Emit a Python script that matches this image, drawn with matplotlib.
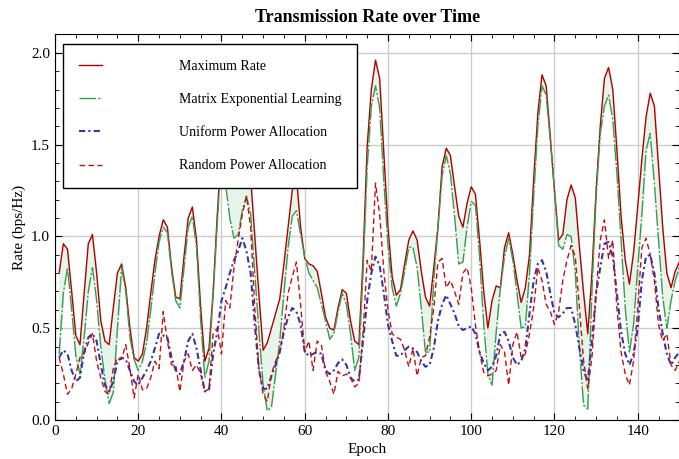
import numpy as np
import matplotlib
matplotlib.use("Agg")
import matplotlib.pyplot as plt

plt.rcParams['font.family'] = ['Liberation Serif', 'DejaVu Serif']
plt.rcParams['mathtext.fontset'] = 'stix'

# epochs 1..150
epochs = np.arange(1, 151)

max_rate = [
    0.80, 0.96, 0.93, 0.70, 0.46, 0.41, 0.69, 0.96, 1.01, 0.80,
    0.54, 0.43, 0.41, 0.61, 0.80, 0.85, 0.72, 0.50, 0.34, 0.32,
    0.36, 0.50, 0.69, 0.87, 1.00, 1.09, 1.05, 0.83, 0.67, 0.66,
    0.89, 1.10, 1.16, 0.98, 0.61, 0.32, 0.39, 0.70, 1.12, 1.50,
    1.60, 1.50, 1.45, 1.55, 1.62, 1.55, 1.32, 1.00, 0.68, 0.38,
    0.42, 0.50, 0.58, 0.66, 0.85, 1.05, 1.25, 1.33, 1.05, 0.88,
    0.85, 0.84, 0.81, 0.69, 0.56, 0.50, 0.49, 0.61, 0.71, 0.69,
    0.54, 0.43, 0.41, 0.87, 1.49, 1.80, 1.96, 1.86, 1.45, 1.05,
    0.78, 0.68, 0.71, 0.85, 0.98, 1.03, 0.98, 0.81, 0.67, 0.62,
    0.83, 1.05, 1.38, 1.48, 1.44, 1.27, 1.11, 1.05, 1.18, 1.27,
    1.23, 0.98, 0.70, 0.50, 0.65, 0.73, 0.72, 0.94, 1.02, 0.90,
    0.76, 0.64, 0.72, 0.90, 1.31, 1.67, 1.88, 1.82, 1.54, 1.25,
    0.98, 1.01, 1.20, 1.28, 1.21, 0.94, 0.69, 0.47, 0.80, 1.25,
    1.60, 1.86, 1.92, 1.80, 1.47, 1.11, 0.87, 0.74, 0.91, 1.16,
    1.42, 1.65, 1.78, 1.71, 1.38, 1.05, 0.80, 0.72, 0.81, 0.86,
]

mel_rate = [
    0.36, 0.69, 0.83, 0.60, 0.35, 0.25, 0.45, 0.70, 0.83, 0.65,
    0.40, 0.22, 0.09, 0.15, 0.50, 0.83, 0.70, 0.45, 0.33, 0.27,
    0.32, 0.42, 0.60, 0.80, 0.97, 1.05, 1.02, 0.81, 0.65, 0.61,
    0.83, 1.05, 1.11, 0.94, 0.54, 0.23, 0.32, 0.69, 1.08, 1.45,
    1.28, 1.10, 0.99, 1.01, 1.14, 1.22, 1.12, 0.80, 0.48, 0.19,
    0.05, 0.07, 0.25, 0.43, 0.69, 0.94, 1.11, 1.14, 1.01, 0.89,
    0.80, 0.76, 0.72, 0.63, 0.54, 0.44, 0.47, 0.59, 0.69, 0.63,
    0.47, 0.27, 0.34, 0.80, 1.38, 1.71, 1.82, 1.70, 1.30, 0.95,
    0.72, 0.62, 0.69, 0.81, 0.94, 0.94, 0.83, 0.61, 0.37, 0.37,
    0.76, 1.05, 1.33, 1.44, 1.34, 1.11, 0.85, 0.86, 1.05, 1.19,
    1.17, 0.89, 0.52, 0.25, 0.19, 0.48, 0.72, 0.89, 0.99, 0.87,
    0.69, 0.50, 0.51, 0.80, 1.22, 1.60, 1.82, 1.77, 1.52, 1.25,
    0.95, 0.93, 1.01, 1.00, 0.80, 0.39, 0.08, 0.06, 0.70, 1.22,
    1.56, 1.71, 1.77, 1.64, 1.34, 0.98, 0.61, 0.37, 0.52, 0.83,
    1.12, 1.47, 1.56, 1.29, 0.98, 0.67, 0.50, 0.65, 0.76, 0.83,
]

uniform_rate = [
    0.34, 0.38, 0.36, 0.27, 0.21, 0.23, 0.37, 0.45, 0.47, 0.43,
    0.30, 0.19, 0.155, 0.21, 0.32, 0.34, 0.33, 0.27, 0.21, 0.19,
    0.23, 0.27, 0.32, 0.39, 0.47, 0.46, 0.45, 0.34, 0.27, 0.25,
    0.32, 0.43, 0.47, 0.39, 0.27, 0.155, 0.165, 0.36, 0.48, 0.65,
    0.72, 0.80, 0.87, 0.92, 0.99, 0.92, 0.80, 0.52, 0.27, 0.17,
    0.17, 0.24, 0.30, 0.37, 0.48, 0.56, 0.61, 0.59, 0.52, 0.37,
    0.35, 0.36, 0.37, 0.36, 0.27, 0.25, 0.27, 0.31, 0.33, 0.30,
    0.23, 0.21, 0.22, 0.43, 0.65, 0.80, 0.89, 0.84, 0.69, 0.52,
    0.43, 0.35, 0.35, 0.38, 0.40, 0.39, 0.37, 0.32, 0.29, 0.30,
    0.39, 0.54, 0.63, 0.68, 0.63, 0.58, 0.51, 0.49, 0.50, 0.51,
    0.47, 0.37, 0.31, 0.27, 0.29, 0.35, 0.47, 0.48, 0.43, 0.34,
    0.30, 0.32, 0.39, 0.58, 0.76, 0.85, 0.87, 0.81, 0.69, 0.58,
    0.56, 0.58, 0.61, 0.61, 0.52, 0.39, 0.27, 0.21, 0.43, 0.69,
    0.83, 0.96, 0.97, 0.89, 0.69, 0.48, 0.36, 0.30, 0.36, 0.50,
    0.76, 0.89, 0.90, 0.80, 0.61, 0.47, 0.36, 0.30, 0.34, 0.37,
]

random_rate = [
    0.34, 0.25, 0.14, 0.17, 0.25, 0.34, 0.36, 0.42, 0.47, 0.32,
    0.23, 0.155, 0.14, 0.28, 0.34, 0.33, 0.41, 0.28, 0.12, 0.25,
    0.165, 0.17, 0.23, 0.32, 0.28, 0.59, 0.43, 0.30, 0.30, 0.155,
    0.32, 0.36, 0.27, 0.30, 0.25, 0.155, 0.17, 0.47, 0.50, 0.36,
    0.65, 0.61, 0.83, 0.98, 1.12, 1.22, 1.05, 0.61, 0.28, 0.14,
    0.10, 0.25, 0.32, 0.37, 0.50, 0.69, 0.78, 0.86, 0.63, 0.37,
    0.43, 0.27, 0.43, 0.41, 0.265, 0.21, 0.14, 0.265, 0.24, 0.25,
    0.23, 0.18, 0.20, 0.47, 0.87, 0.81, 1.29, 1.12, 0.81, 0.60,
    0.47, 0.45, 0.44, 0.38, 0.29, 0.39, 0.24, 0.34, 0.35, 0.45,
    0.61, 0.86, 0.88, 0.72, 0.76, 0.70, 0.63, 0.80, 0.83, 0.72,
    0.52, 0.37, 0.26, 0.24, 0.25, 0.27, 0.41, 0.37, 0.19, 0.41,
    0.48, 0.34, 0.36, 0.47, 0.61, 0.83, 0.76, 0.63, 0.59, 0.52,
    0.59, 0.76, 0.87, 0.95, 0.89, 0.61, 0.32, 0.17, 0.34, 0.69,
    0.98, 1.09, 0.88, 0.98, 0.61, 0.37, 0.25, 0.19, 0.32, 0.61,
    0.94, 0.99, 0.90, 0.76, 0.52, 0.43, 0.47, 0.30, 0.27, 0.32,
]

fig = plt.figure(figsize=(6.79, 4.59), dpi=100)
ax = fig.add_axes([0.081, 0.085, 0.9195, 0.840])

ax.fill_between(epochs, max_rate, mel_rate, color="#e6f4e9", zorder=1)
ax.plot(epochs, max_rate, color="#b00000", lw=1.0, label="Maximum Rate", zorder=3)
ax.plot(epochs, mel_rate, color="#3c9a52", lw=1.0, dashes=(12, 1.5, 1.5, 1.5),
        label="Matrix Exponential Learning", zorder=3)
ax.plot(epochs, uniform_rate, color="#3535a8", lw=1.5, dashes=(3, 1.5, 1, 1.5),
        label="Uniform Power Allocation", zorder=3)
ax.plot(epochs, random_rate, color="#c01010", lw=1.0, dashes=(4, 2.5),
        label="Random Power Allocation", zorder=3)

ax.set_xlim(0, 150)
ax.set_ylim(0, 2.1)
ax.set_xticks(np.arange(0, 141, 20))
ax.set_xticks(np.arange(0, 151, 5), minor=True)
ax.set_yticks(np.arange(0, 2.01, 0.5))
ax.set_yticks(np.arange(0, 2.11, 0.1), minor=True)
ax.yaxis.set_major_formatter(plt.FormatStrFormatter("%.1f"))
ax.tick_params(which="both", direction="in", top=True, right=True, labelsize=11)
ax.tick_params(which="major", length=5)
ax.tick_params(which="minor", length=3)
ax.grid(True, which="major", color="#cccccc", lw=1.0, zorder=0)
ax.set_axisbelow(True)

ax.set_title("Transmission Rate over Time", fontsize=13, fontweight="bold", pad=9)
ax.set_xlabel("Epoch", fontsize=11)
ax.set_ylabel("Rate (bps/Hz)", fontsize=11)

leg = ax.legend(loc="upper left", bbox_to_anchor=(0.0133, 0.975), fontsize=10,
                frameon=True, fancybox=False, framealpha=1, edgecolor="black",
                handlelength=1.65, handletextpad=5.5, labelspacing=1.45,
                borderpad=1.15, borderaxespad=0)
leg.get_frame().set_linewidth(1.0)
leg.set_zorder(5)

fig.savefig("out.png", dpi=100)
